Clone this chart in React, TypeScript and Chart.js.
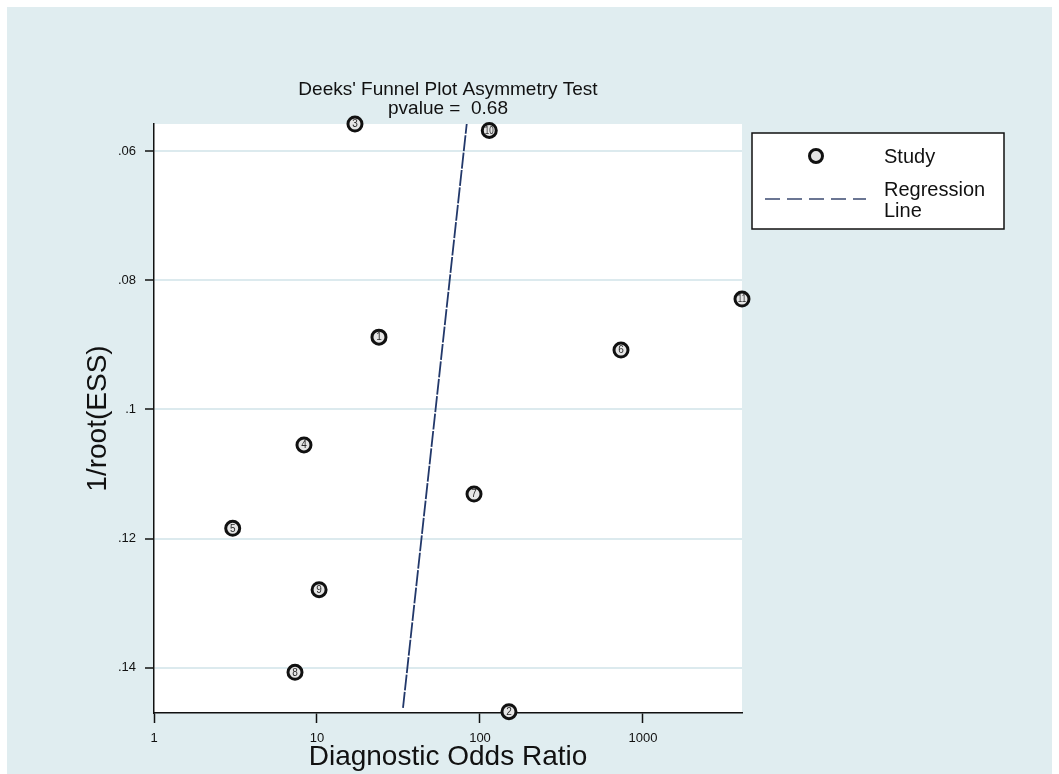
import React, { useEffect, useRef } from "react";
import { Chart, registerables } from "chart.js";

Chart.register(...registerables);

// ---- data ----
const studyLabels = ["1", "2", "3", "4", "5", "6", "7", "8", "9", "10", "11"];
const diagnosticOddsRatio = [24.0, 150.6, 17.1, 8.32, 3.04, 733, 91.9, 7.33, 10.3, 114, 4050];
const invRootESS = [0.0888, 0.1468, 0.0558, 0.1055, 0.1184, 0.0908, 0.1131, 0.1407, 0.1279, 0.0568, 0.0829];
const regressionX = [33.7, 82.9];
const regressionY = [0.1462, 0.0558];
const xTickValues = [1, 10, 100, 1000];
const xTickLabels = ["1", "10", "100", "1000"];
const yTickValues = [0.06, 0.08, 0.1, 0.12, 0.14];
const yTickLabels = [".06", ".08", ".1", ".12", ".14"];
const xRange = [1, 4050];
const yRange = [0.0558, 0.147];
const titleLines = ["Deeks' Funnel Plot Asymmetry Test", "pvalue =  0.68"];
const legendLabels = ["Study", "Regression", "Line"];
const xAxisTitle = "Diagnostic Odds Ratio";
const yAxisTitle = "1/root(ESS)";

const FONT = "'Liberation Sans', Arial, sans-serif";
const BG = "rgb(224,237,240)";
const GRID = "rgb(220,234,238)";
const LINE_COLOR = "#22386a";

const W = 1059;
const H = 774;
const MARGIN = 7;

const bgPlugin = {
  id: "bgPlugin",
  beforeDraw(chart: any) {
    const { ctx, chartArea } = chart;
    ctx.save();
    ctx.fillStyle = "#ffffff";
    ctx.fillRect(0, 0, chart.width, chart.height);
    ctx.fillStyle = BG;
    ctx.fillRect(MARGIN, MARGIN, chart.width - 2 * MARGIN, chart.height - MARGIN);
    ctx.fillStyle = "#ffffff";
    ctx.fillRect(chartArea.left, chartArea.top, chartArea.right - chartArea.left, chartArea.bottom - chartArea.top);
    ctx.restore();
  },
};

const pointLabelPlugin = {
  id: "pointLabelPlugin",
  afterDatasetsDraw(chart: any) {
    const { ctx } = chart;
    const meta = chart.getDatasetMeta(0);
    ctx.save();
    ctx.font = `10px ${FONT}`;
    ctx.fillStyle = "#2a2a2a";
    ctx.textAlign = "center";
    ctx.textBaseline = "middle";
    meta.data.forEach((el: any, i: number) => {
      const t = studyLabels[i];
      if (t.length > 1) {
        ctx.save();
        ctx.translate(el.x, el.y + 0.5);
        ctx.scale(0.8, 1);
        ctx.fillText(t, 0, 0);
        ctx.restore();
      } else {
        ctx.fillText(t, el.x, el.y + 0.5);
      }
    });
    ctx.restore();
  },
};

const legendPlugin = {
  id: "legendPlugin",
  afterDraw(chart: any) {
    const { ctx, chartArea } = chart;
    const bx = chartArea.right + 10;
    const by = chartArea.top + 9;
    const bw = 252;
    const bh = 96;
    ctx.save();
    ctx.fillStyle = "#ffffff";
    ctx.fillRect(bx, by, bw, bh);
    ctx.strokeStyle = "#111111";
    ctx.lineWidth = 1.5;
    ctx.strokeRect(bx, by, bw, bh);
    // marker
    ctx.beginPath();
    ctx.arc(bx + 64, by + 23, 6.5, 0, Math.PI * 2);
    ctx.fillStyle = "#e6e6e6";
    ctx.fill();
    ctx.lineWidth = 3;
    ctx.strokeStyle = "#111111";
    ctx.stroke();
    // dashed line
    ctx.beginPath();
    ctx.setLineDash([15, 7]);
    ctx.lineWidth = 1.5;
    ctx.strokeStyle = "#3b4a70";
    ctx.moveTo(bx + 13, by + 66);
    ctx.lineTo(bx + 114, by + 66);
    ctx.stroke();
    ctx.setLineDash([]);
    // texts
    ctx.fillStyle = "#111111";
    ctx.font = `20px ${FONT}`;
    ctx.textAlign = "left";
    ctx.textBaseline = "alphabetic";
    ctx.fillText(legendLabels[0], bx + 132, by + 30);
    ctx.fillText(legendLabels[1], bx + 132, by + 63);
    ctx.fillText(legendLabels[2], bx + 132, by + 84);
    ctx.restore();
  },
};

export default function App() {
  const ref = useRef<HTMLCanvasElement | null>(null);

  useEffect(() => {
    if (!ref.current) return;
    const studyPoints = diagnosticOddsRatio.map((x, i) => ({ x, y: invRootESS[i] }));
    const regPoints = regressionX.map((x, i) => ({ x, y: regressionY[i] }));
    const chart = new Chart(ref.current, {
      type: "scatter",
      data: {
        datasets: [
          {
            label: "Study",
            data: studyPoints,
            pointStyle: "circle",
            pointRadius: 7,
            pointBorderWidth: 3,
            pointBorderColor: "#111111",
            pointBackgroundColor: "#e6e6e6",
            showLine: false,
            clip: false,
          } as any,
          {
            label: "Regression Line",
            type: "line",
            data: regPoints,
            borderColor: LINE_COLOR,
            borderWidth: 1.8,
            borderDash: [16, 1.5],
            pointRadius: 0,
            fill: false,
            clip: false,
          } as any,
        ],
      },
      options: {
        animation: false,
        responsive: false,
        devicePixelRatio: 1,
        events: [],
        layout: { padding: { left: 0, right: 317, top: 0, bottom: 0 } },
        plugins: {
          legend: { display: false },
          tooltip: { enabled: false },
          title: {
            display: true,
            text: titleLines,
            fullSize: false,
            color: "#111111",
            font: { family: FONT, size: 19, lineHeight: 1, weight: "normal" },
            padding: { top: 80, bottom: 6 },
          },
        },
        scales: {
          x: {
            type: "logarithmic",
            min: xRange[0],
            max: xRange[1],
            afterBuildTicks: (scale: any) => {
              scale.ticks = xTickValues.map((v) => ({ value: v }));
            },
            afterFit: (scale: any) => {
              scale.height = 61;
            },
            ticks: {
              autoSkip: false,
              maxRotation: 0,
              padding: 8,
              color: "#111111",
              font: { family: FONT, size: 13 },
              callback: (value: any, index: number) => xTickLabels[index],
            },
            grid: {
              drawOnChartArea: false,
              drawTicks: true,
              tickLength: 10,
              tickColor: "#111111",
              tickWidth: 1.5,
            },
            border: { display: true, color: "#111111", width: 1.5 },
            title: {
              display: true,
              text: xAxisTitle,
              color: "#111111",
              font: { family: FONT, size: 28, lineHeight: 1.2 },
              padding: { top: 0, bottom: 0 },
            },
          },
          y: {
            type: "linear",
            reverse: true,
            min: yRange[0],
            max: yRange[1],
            afterBuildTicks: (scale: any) => {
              scale.ticks = yTickValues.map((v) => ({ value: v }));
            },
            afterFit: (scale: any) => {
              scale.width = 154;
            },
            ticks: {
              autoSkip: false,
              padding: 9,
              color: "#111111",
              font: { family: FONT, size: 13 },
              callback: (value: any, index: number) => yTickLabels[index],
            },
            grid: {
              color: GRID,
              lineWidth: 2,
              drawTicks: true,
              tickLength: 9,
              tickColor: "#111111",
              tickWidth: 1.5,
            },
            border: { display: true, color: "#111111", width: 1.5 },
            title: {
              display: true,
              text: yAxisTitle,
              color: "#111111",
              font: { family: FONT, size: 28, lineHeight: 1.2 },
              padding: { top: 81, bottom: 0 },
            },
          },
        },
      },
      plugins: [bgPlugin, pointLabelPlugin, legendPlugin],
    } as any);
    return () => chart.destroy();
  }, []);

  return (
    <div style={{ position: "absolute", left: 0, top: 0, width: W, height: H }}>
      <canvas ref={ref} width={W} height={H} style={{ display: "block", width: W, height: H }} />
    </div>
  );
}
